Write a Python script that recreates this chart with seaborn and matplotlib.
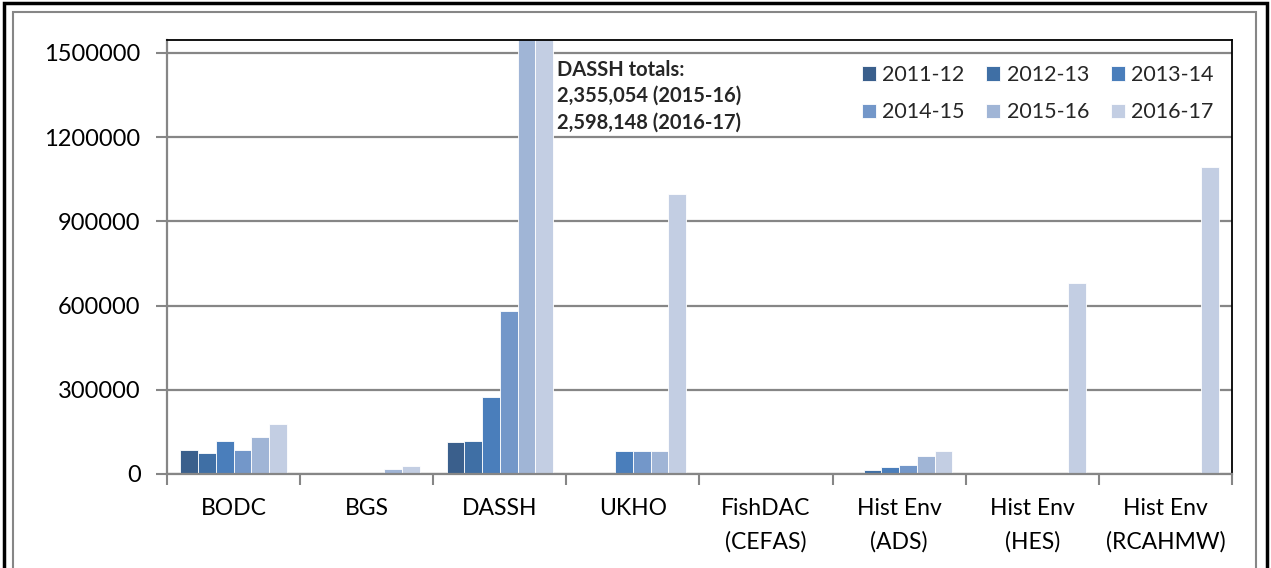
import matplotlib.pyplot as plt
import seaborn as sns
import pandas as pd
import numpy as np
from matplotlib.patches import Rectangle

# ==============================
# DATA
# ==============================
centres = ["BODC", "BGS", "DASSH", "UKHO", "FishDAC\n(CEFAS)",
           "Hist Env\n(ADS)", "Hist Env\n(HES)", "Hist Env\n(RCAHMW)"]
years = ["2011-12", "2012-13", "2013-14", "2014-15", "2015-16", "2016-17"]

v_2011_12 = [85000, 0, 113000, 0, 0, 0, 0, 0]
v_2012_13 = [74000, 0, 116000, 0, 0, 16000, 0, 0]
v_2013_14 = [116000, 5000, 274000, 83000, 0, 25000, 0, 0]
v_2014_15 = [85000, 5000, 581000, 83000, 0, 33000, 0, 0]
v_2015_16 = [131000, 17000, 2355054, 83000, 0, 63000, 0, 0]
v_2016_17 = [178000, 27000, 2598148, 998000, 0, 83000, 680000, 1094000]

y_ticks = [0, 300000, 600000, 900000, 1200000, 1500000]

colors = ["#3a5f8c", "#3f6fa5", "#4a7ebb", "#7397c9", "#a0b5d6", "#c3cee3"]

series = [v_2011_12, v_2012_13, v_2013_14, v_2014_15, v_2015_16, v_2016_17]
rows = []
for yr, vals in zip(years, series):
    for c, v in zip(centres, vals):
        rows.append({"centre": c, "year": yr, "value": v})
df = pd.DataFrame(rows)

# ==============================
# STYLE
# ==============================
sns.set_theme(style="white")
plt.rcParams["font.family"] = ["Lato", "DejaVu Sans"]

fig = plt.figure(figsize=(12.71, 5.68), dpi=100)
ax = fig.add_axes([0.1314, 0.1655, 0.9693 - 0.1314, 0.9296 - 0.1655])

sns.barplot(data=df, x="centre", y="value", hue="year", order=centres,
            hue_order=years, palette=colors, width=0.8, ax=ax,
            edgecolor="white", linewidth=0.6, saturation=1, errorbar=None)

ax.set_ylim(0, 1546000)
ax.set_xlim(-0.5, len(centres) - 0.5)
ax.set_yticks(y_ticks)
ax.set_yticklabels([str(t) for t in y_ticks], fontsize=17, color="black")
ax.set_xticks(range(len(centres)))
ax.set_xticklabels(centres, fontsize=16.5, color="black", linespacing=1.7)
ax.set_xlabel("")
ax.set_ylabel("")

# gridlines behind bars
ax.set_axisbelow(True)
ax.yaxis.grid(True, color="#868686", linewidth=1.6)
ax.xaxis.grid(False)

# tick marks: y outward, x at category boundaries
ax.tick_params(axis="y", length=8, width=1.5, color="#868686", direction="out", pad=11, left=True)
ax.tick_params(axis="x", which="major", length=0, pad=17)
ax.set_xticks(np.arange(-0.5, len(centres)), minor=True)
ax.tick_params(axis="x", which="minor", length=8, width=1.5, color="#868686", direction="out", bottom=True)

for side in ["left", "bottom"]:
    ax.spines[side].set_color("#868686")
    ax.spines[side].set_linewidth(1.6)
for side in ["top", "right"]:
    ax.spines[side].set_color("black")
    ax.spines[side].set_linewidth(1.3)

# legend, filled row by row
handles, labels = ax.get_legend_handles_labels()
order = [0, 3, 1, 4, 2, 5]
ax.legend([handles[i] for i in order], [labels[i] for i in order],
          ncol=3, loc="upper right", bbox_to_anchor=(0.995, 0.972), frameon=False,
          fontsize=15.5, handlelength=0.65, handleheight=0.65, handletextpad=0.3,
          columnspacing=1.0, labelspacing=0.8, borderaxespad=0.2)

# annotation
ax.text(0.366, 0.955, "DASSH totals:\n2,355,054 (2015-16)\n2,598,148 (2016-17)",
        transform=ax.transAxes, fontsize=14.5, fontweight="bold", va="top", ha="left",
        linespacing=1.4)

# outer frames
fig.patches.append(Rectangle((0.003, -0.02), 0.994, 1.015, transform=fig.transFigure,
                             fill=False, edgecolor="black", linewidth=2.5))
fig.patches.append(Rectangle((0.0105, -0.01), 0.978, 0.989, transform=fig.transFigure,
                             fill=False, edgecolor="#868686", linewidth=1.5))

fig.savefig("out.png", dpi=100)
